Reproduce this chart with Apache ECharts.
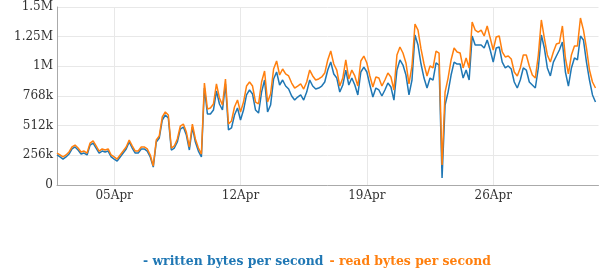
<!DOCTYPE html>
<html><head><meta charset="utf-8">
<script src="https://cdn.jsdelivr.net/npm/echarts@6/dist/echarts.min.js"></script>
<style>html,body{margin:0;padding:0;background:#fff}#c{width:603px;height:270px}</style>
</head><body><div id="c"></div>
<script>
// Time categories: 4-hour samples starting 1 Apr 20:00
const startUTC = Date.UTC(2015, 3, 1, 20, 0, 0);
const stepHours = 4;
const categoryCount = 181;
const tickLabels = ['05Apr', '12Apr', '19Apr', '26Apr'];
const seriesNames = ['written bytes per second', 'read bytes per second'];
// values in kB/s
const written = [259,242,224,242,267,311,328,302,267,276,259,345,362,319,276,293,285,293,242,224,
207,242,276,311,371,319,276,276,311,311,293,242,155,371,406,561,604,578,302,319,
371,483,500,431,302,500,371,293,242,837,613,613,647,811,699,647,872,475,492,604,
664,561,647,777,820,785,647,621,802,906,630,690,915,975,863,906,854,828,768,733,
759,777,733,802,906,854,828,837,854,889,992,1061,958,923,802,863,992,863,923,863,
777,975,1018,975,863,759,837,820,768,820,880,846,733,992,1079,1035,949,777,906,1294,
1208,1044,923,837,923,906,1053,1035,60,690,802,949,1061,1044,1044,923,992,906,1286,1208,
1208,1208,1182,1251,1165,1061,1182,1191,1061,1010,1027,1001,889,837,906,1010,992,889,863,837,
1010,1294,1182,1010,941,1061,1113,1165,1234,975,854,1010,1096,1079,1286,1251,1061,906,777,716];
const read = [276,259,242,259,285,328,345,319,285,293,276,362,380,337,293,311,302,311,259,242,
224,259,293,328,388,337,293,293,328,328,311,259,164,388,423,587,630,604,319,337,
397,509,526,457,328,526,397,319,267,880,656,664,699,872,751,690,915,526,552,673,
733,630,716,854,889,854,716,699,889,984,716,785,1001,1070,949,1001,958,941,880,837,
854,872,828,889,992,941,906,915,932,966,1079,1156,1044,992,854,923,1079,915,992,941,
854,1070,1113,1053,941,846,932,923,854,906,966,932,820,1122,1191,1139,1053,872,1027,1389,
1337,1174,1044,941,1027,1010,1156,1139,173,802,923,1079,1182,1148,1139,1010,1096,1010,1407,1337,
1320,1337,1286,1372,1268,1165,1277,1286,1148,1105,1113,1087,975,941,1010,1122,1122,1027,949,923,
1122,1424,1268,1122,1061,1148,1217,1225,1372,1096,958,1122,1199,1199,1441,1337,1182,992,889,837];
const colors = ['#1f77b4', '#ff7f0e'];

const MON = ['Jan','Feb','Mar','Apr','May','Jun','Jul','Aug','Sep','Oct','Nov','Dec'];
const categories = [];
for (let i = 0; i < categoryCount; i++) {
  const d = new Date(startUTC + i * stepHours * 3600000);
  const dd = String(d.getUTCDate()).padStart(2, '0');
  categories.push(dd + MON[d.getUTCMonth()] + ' ' + String(d.getUTCHours()).padStart(2, '0') + ':00');
}
function isTick(idx, val) {
  const parts = String(val).split(' ');
  return parts[1] === '00:00' && tickLabels.indexOf(parts[0]) >= 0;
}
function fmtY(v) {
  if (v === 0) return '0';
  if (v < 1024) return v + 'k';
  return (v / 1024) + 'M';
}
const FONT = 'DejaVu Serif';
const chart = echarts.init(document.getElementById('c'), null, {renderer: 'canvas'});
chart.setOption({
  animation: false,
  grid: {left: 57, right: 4.5, top: 7, bottom: 85, containLabel: false},
  legend: {
    top: 251, left: 133,
    icon: 'none', itemWidth: 0, itemHeight: 10, itemGap: 1,
    formatter: '- {name}',
    selectedMode: false,
    data: seriesNames.map((n, i) => ({name: n, textStyle: {color: colors[i]}})),
    textStyle: {fontFamily: FONT, fontWeight: 'bold', fontSize: 12.4}
  },
  xAxis: {
    type: 'category', data: categories, boundaryGap: false,
    axisLine: {lineStyle: {color: '#aaaaaa', width: 1}},
    axisTick: {show: false},
    axisLabel: {interval: isTick, formatter: v => String(v).split(' ')[0],
      color: '#333', fontFamily: FONT, fontSize: 12, margin: 5},
    splitLine: {show: true, interval: isTick, lineStyle: {color: '#e8e8e8', width: 1}}
  },
  yAxis: {
    type: 'value', min: 0, max: 1536, interval: 256,
    axisLine: {show: true, lineStyle: {color: '#aaaaaa', width: 1}},
    axisTick: {show: false},
    axisLabel: {formatter: fmtY, color: '#333', fontFamily: FONT, fontSize: 12, margin: 4},
    splitLine: {show: true, lineStyle: {color: '#e8e8e8', width: 1}}
  },
  series: [
    {name: seriesNames[0], type: 'line', data: written, symbol: 'none', smooth: false,
     lineStyle: {color: colors[0], width: 1.5}, itemStyle: {color: colors[0]}, z: 2},
    {name: seriesNames[1], type: 'line', data: read, symbol: 'none', smooth: false,
     lineStyle: {color: colors[1], width: 1.5}, itemStyle: {color: colors[1]}, z: 3}
  ]
});
</script></body></html>
